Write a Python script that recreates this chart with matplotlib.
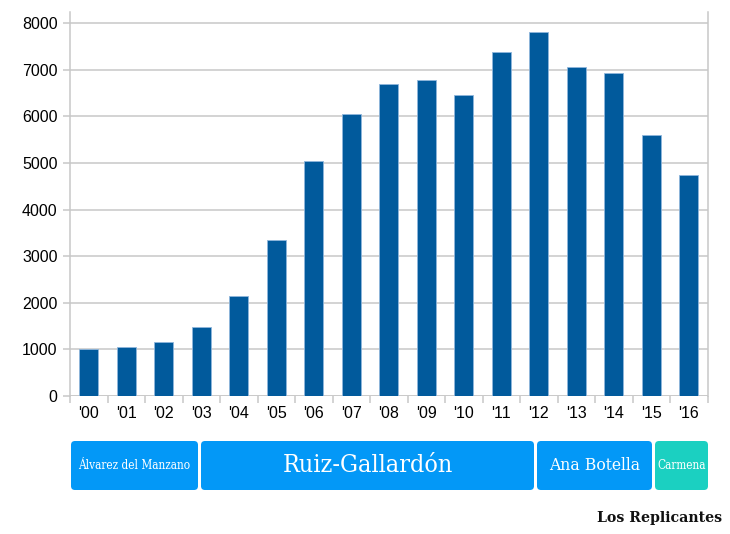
import matplotlib
matplotlib.use("Agg")
import matplotlib.pyplot as plt
from matplotlib.patches import FancyBboxPatch

years = ["'00", "'01", "'02", "'03", "'04", "'05", "'06", "'07", "'08", "'09",
         "'10", "'11", "'12", "'13", "'14", "'15", "'16"]
values = [1000, 1050, 1150, 1470, 2140, 3350, 5050, 6050, 6700, 6780,
          6460, 7380, 7800, 7050, 6930, 5600, 4750]
yticks = [0, 1000, 2000, 3000, 4000, 5000, 6000, 7000, 8000]

mayors = ["Álvarez del Manzano", "Ruiz-Gallardón", "Ana Botella", "Carmena"]

fig = plt.figure(figsize=(7.30, 5.34), dpi=100)
ax = fig.add_axes([70/730, 1-396/534, 637.5/730, 384/534])

x = list(range(len(years)))
ax.bar(x, values, width=0.5, color="#015a9c", edgecolor="#8fb6dc", linewidth=0.6, zorder=3)
ax.set_xlim(-0.5, len(years)-0.5)
ax.set_ylim(0, 8236)
ax.set_yticks(yticks)
ax.set_yticklabels([str(v) for v in yticks], fontsize=11.5, family="Liberation Sans")
ax.set_xticks(x)
ax.set_xticklabels(years, fontsize=11.5, family="Liberation Sans")
ax.set_xticks([i - 0.5 for i in range(len(years)+1)], minor=True)
ax.tick_params(axis="x", which="major", length=0, pad=7)
ax.tick_params(axis="x", which="minor", length=5, color="#c8c8c8", width=1.1)
ax.tick_params(axis="y", length=5, color="#c8c8c8", width=1.1, pad=4)
ax.grid(axis="y", color="#c8c8c8", linewidth=1.1, zorder=0)
for s in ["top", "bottom"]:
    ax.spines[s].set_visible(False)
for s in ["left", "right"]:
    ax.spines[s].set_color("#c8c8c8")
    ax.spines[s].set_linewidth(1.1)
ax.axhline(0, color="#c8c8c8", linewidth=1.1, zorder=1)

# mayor term boxes
bax = fig.add_axes([0, 0, 1, 1])
bax.set_xlim(0, 730)
bax.set_ylim(534, 0)
bax.axis("off")
boxes = [(71, 198, "#0398f7", 8.5), (201, 534, "#0398f7", 18), (537, 652, "#0398f7", 12.5), (655, 708, "#1bd0c1", 8.5)]
for (x0, x1, c, fs), name in zip(boxes, mayors):
    p = FancyBboxPatch((x0+3, 444), x1-x0-6, 43, boxstyle="round,pad=3,rounding_size=4",
                       facecolor=c, edgecolor="none")
    bax.add_patch(p)
    bax.text((x0+x1)/2, 465.5, name, ha="center", va="center", color="white",
             fontsize=fs, family="DejaVu Serif",
             fontstretch="condensed")

bax.text(660, 518, "Los Replicantes", ha="center", va="center", fontsize=10.2,
         fontweight="bold", family="DejaVu Serif", color="#111111")

fig.savefig("out.png", dpi=100)
